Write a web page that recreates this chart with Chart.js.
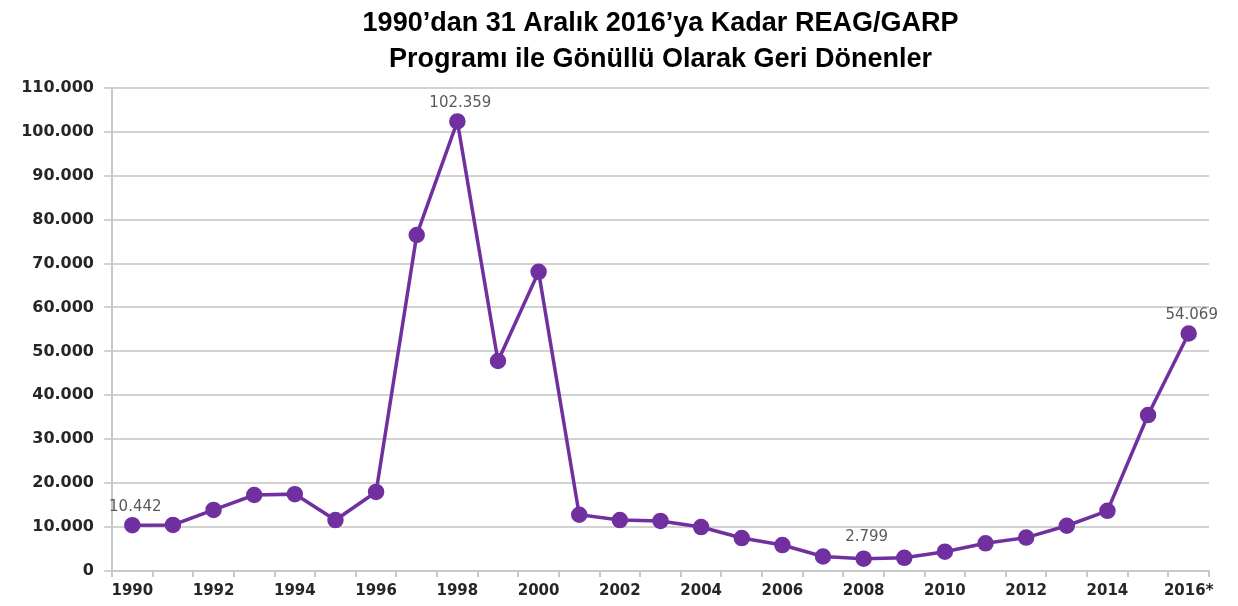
<!DOCTYPE html>
<html>
<head>
<meta charset="utf-8">
<script src="https://cdn.jsdelivr.net/npm/chart.js@4"></script>
<style>
html,body{margin:0;padding:0;background:#fff;}
#wrap{width:1238px;height:606px;position:relative;}
</style>
</head>
<body>
<div id="wrap"><canvas id="c"></canvas></div>
<script>
const years = ['1990','1991','1992','1993','1994','1995','1996','1997','1998','1999','2000','2001','2002','2003','2004','2005','2006','2007','2008','2009','2010','2011','2012','2013','2014','2015','2016*'];
const returnees = [10442,10500,13900,17300,17500,11600,18000,76500,102359,47800,68100,12800,11600,11400,10000,7500,5900,3300,2799,3000,4400,6300,7600,10300,13700,35500,54069];
const labeledIndex = [0,8,18,26];
const yTicks = {min:0, max:110000, step:10000};
const titleLines = ['1990\u2019dan 31 Aral\u0131k 2016\u2019ya Kadar REAG/GARP','Program\u0131 ile G\u00f6n\u00fcll\u00fc Olarak Geri D\u00f6nenler'];

const fmt = v => String(v).replace(/\B(?=(\d{3})+(?!\d))/g,'.');

const valueLabels = {
  id:'valueLabels',
  afterDatasetsDraw(chart){
    const ctx = chart.ctx;
    const meta = chart.getDatasetMeta(0);
    ctx.save();
    ctx.font = '15px "DejaVu Sans"';
    ctx.fillStyle = '#5a5a5a';
    ctx.textAlign = 'center';
    ctx.textBaseline = 'middle';
    labeledIndex.forEach(i=>{
      const el = meta.data[i];
      const off = i===18 ? 22 : 18;
      ctx.fillText(fmt(returnees[i]), el.x + 3, el.y - off);
    });
    ctx.restore();
  }
};

new Chart(document.getElementById('c'), {
  type:'line',
  data:{
    labels: years,
    datasets:[{
      data: returnees,
      borderColor:'#7030a0',
      backgroundColor:'#7030a0',
      borderWidth:3.5,
      pointRadius:6.5,
      pointHoverRadius:6.5,
      pointBackgroundColor:'#7030a0',
      pointBorderColor:'#7030a0',
      tension:0,
      fill:false
    }]
  },
  options:{
    responsive:true,
    maintainAspectRatio:false,
    animation:false,
    layout:{padding:{left:10,right:29,top:6,bottom:0}},
    plugins:{
      legend:{display:false},
      tooltip:{enabled:false},
      title:{
        display:true,
        text:titleLines,
        fullSize:false,
        color:'#000',
        font:{family:'"Liberation Sans", Arial, sans-serif', size:27, weight:'bold', lineHeight:1.33},
        padding:{top:0,bottom:10}
      }
    },
    scales:{
      x:{
        type:'category',
        offset:true,
        grid:{display:true, drawOnChartArea:false, drawTicks:true, tickLength:6, offset:true, color:'#c8c8c8', lineWidth:2},
        border:{display:true, color:'#c8c8c8', width:2},
        ticks:{
          autoSkip:false, maxRotation:0, minRotation:0, padding:7,
          color:'#262626',
          font:{family:'"DejaVu Sans", Verdana, sans-serif', size:15, weight:'bold', lineHeight:1},
          callback:(v,i)=> i%2===0 ? years[i] : ''
        }
      },
      y:{
        min:yTicks.min, max:yTicks.max,
        afterFit: s => { s.width = 102; },
        grid:{color:'#d2d2d2', lineWidth:2, tickLength:8, drawTicks:true},
        border:{display:true, color:'#c8c8c8', width:2},
        ticks:{
          stepSize:yTicks.step, padding:10,
          color:'#262626',
          font:{family:'"DejaVu Sans", Verdana, sans-serif', size:16, weight:'bold'},
          callback:v=>fmt(v)
        }
      }
    }
  },
  plugins:[valueLabels]
});
</script>
</body>
</html>
